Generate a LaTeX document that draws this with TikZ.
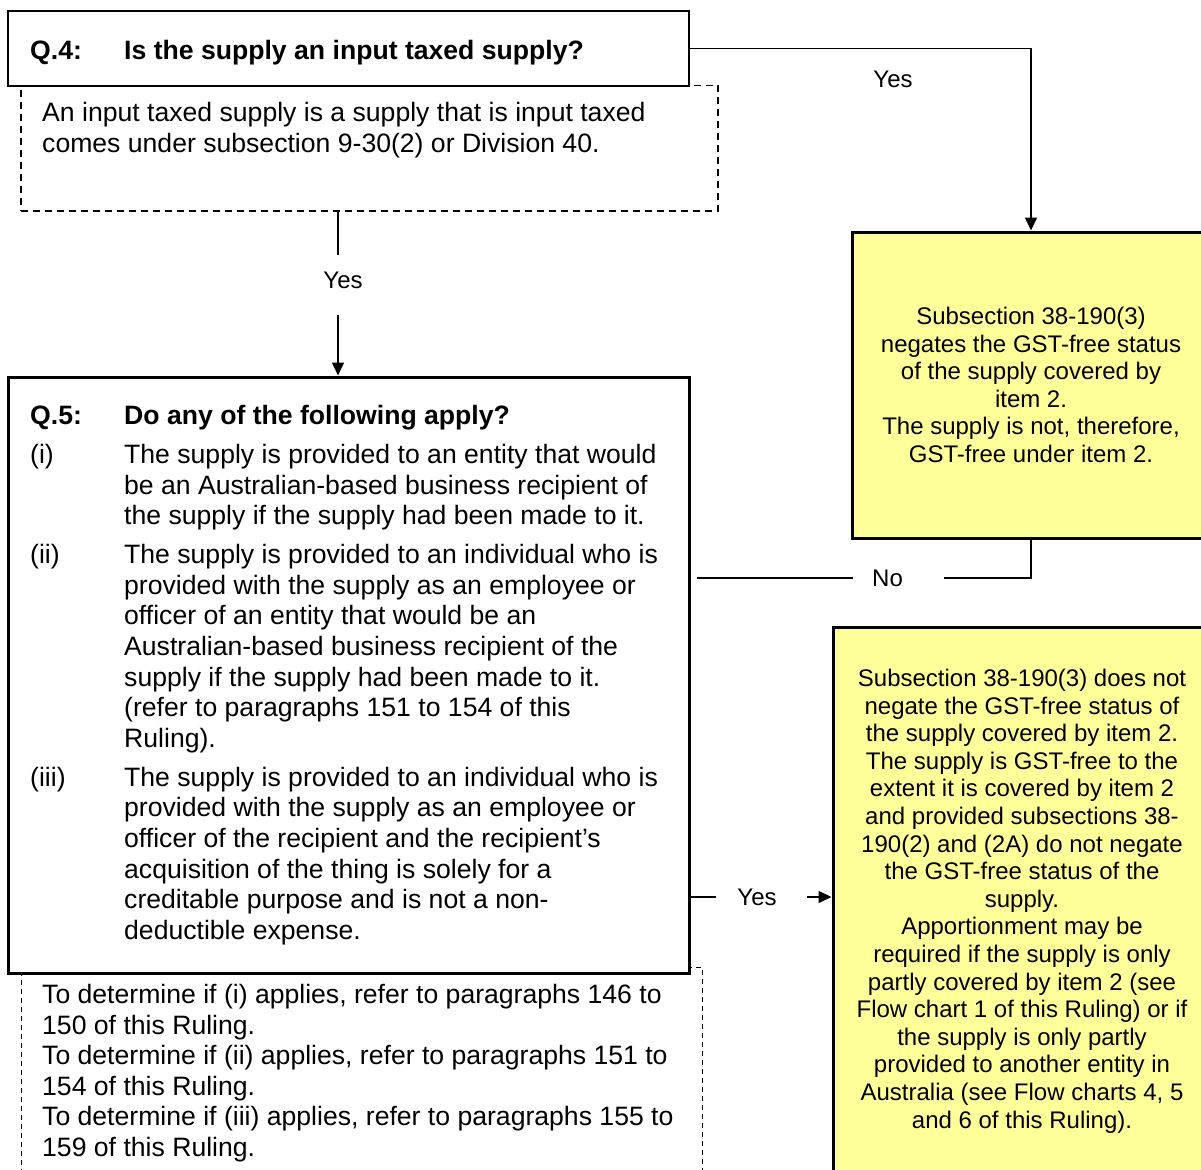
\documentclass[tikz,border=0pt]{standalone}
\usepackage{fontspec}
\setmainfont{Liberation Sans}
\usetikzlibrary{arrows.meta,calc}
\definecolor{noteyellow}{HTML}{FFFF99}
\begin{document}
\begin{tikzpicture}[x=1pt,y=-1pt,
  qbox/.style={draw=black, line width=3pt, fill=white, inner sep=0pt, rectangle},
  ybox/.style={draw=black, line width=3pt, fill=noteyellow, inner sep=0pt, align=center,
    font=\fontsize{24}{27.6}\selectfont},
  notebox/.style={draw=black, line width=1.3pt, dash pattern=on 7pt off 5pt, inner sep=0pt},
  notebox2/.style={draw=black, line width=1pt, dash pattern=on 5pt off 4pt, inner sep=0pt},
  bigtxt/.style={font=\fontsize{26.6}{30.6}\selectfont, inner sep=0pt, anchor=base west},
  lbl/.style={font=\fontsize{24}{27.6}\selectfont, inner sep=0pt},
  conn/.style={draw=black, line width=1.5pt},
  arr/.style={conn, -{Triangle[length=13pt,width=12pt]}},
]
\useasboundingbox (0,0) rectangle (1201,1169);

% note boxes (drawn first, question boxes overlay them)
\node[notebox, minimum width=697pt, minimum height=125.5pt] (q4note) at (369.5,148.25) {};
\node[notebox2, minimum width=681pt, minimum height=236pt] (q5note) at (361.5,1085) {};

% question boxes
\node[qbox, line width=2.5pt, minimum width=681pt, minimum height=75pt] (q4) at (348.5,48.5) {};
\node[qbox, minimum width=681pt, minimum height=596pt] (q5) at (348.5,675) {};

% yellow result boxes
\node[ybox, minimum width=358pt, minimum height=306pt] (r1) at (1031,385)
  {Subsection 38-190(3)\\ negates the GST-free status\\ of the supply covered by\\ item 2.\\ The supply is not, therefore,\\ GST-free under item 2.};
\node[ybox, minimum width=378pt, minimum height=547pt] (r2) at (1022,901)
  {Subsection 38-190(3) does not\\ negate the GST-free status of\\ the supply covered by item 2.\\ The supply is GST-free to the\\ extent it is covered by item 2\\ and provided subsections 38-\\ 190(2) and (2A) do not negate\\ the GST-free status of the\\ supply.\\ Apportionment may be\\ required if the supply is only\\ partly covered by item 2 (see\\ Flow chart 1 of this Ruling) or if\\ the supply is only partly\\ provided to another entity in\\ Australia (see Flow charts 4, 5\\ and 6 of this Ruling).};

% texts
\node[bigtxt] (q4text) at (30,59.5) {\textbf{\makebox[94pt][l]{Q.4:}Is the supply an input taxed supply?}};
\node[bigtxt] (q4notetext) at (42,121.5) {\begin{tabular}[t]{@{}l@{}}An input taxed supply is a supply that is input taxed\\ comes under subsection 9-30(2) or Division 40.\end{tabular}};
\node[bigtxt] (q5text) at (30,424.5) {\begin{tabular}[t]{@{}p{94pt}@{}l@{}}
\textbf{Q.5:} & \textbf{Do any of the following apply?}\\[8.4pt]
(i) & The supply is provided to an entity that would\\
 & be an Australian-based business recipient of\\
 & the supply if the supply had been made to it.\\[8.4pt]
(ii) & The supply is provided to an individual who is\\
 & provided with the supply as an employee or\\
 & officer of an entity that would be an\\
 & Australian-based business recipient of the\\
 & supply if the supply had been made to it.\\
 & (refer to paragraphs 151 to 154 of this\\
 & Ruling).\\[8.4pt]
(iii) & The supply is provided to an individual who is\\
 & provided with the supply as an employee or\\
 & officer of the recipient and the recipient’s\\
 & acquisition of the thing is solely for a\\
 & creditable purpose and is not a non-\\
 & deductible expense.
\end{tabular}};
\node[bigtxt] (q5notetext) at (42,1003.5) {\begin{tabular}[t]{@{}l@{}}To determine if (i) applies, refer to paragraphs 146 to\\ 150 of this Ruling.\\ To determine if (ii) applies, refer to paragraphs 151 to\\ 154 of this Ruling.\\ To determine if (iii) applies, refer to paragraphs 155 to\\ 159 of this Ruling.\end{tabular}};

% labels
\node[lbl] (yes1) at (893,79) {Yes};
\node[lbl, minimum width=40pt, minimum height=60pt] (yes2) at (338,285) {\hspace*{10pt}\raisebox{5pt}[\height][\depth]{Yes}};
\node[lbl, minimum width=91pt, minimum height=20pt] (no1) at (898.5,578) {\hspace*{-22pt}No};
\node[lbl, minimum width=91pt, minimum height=20pt] (yes3) at (761.5,897) {\hspace*{-9pt}Yes};

% connectors
\draw[arr] (q4.east) -| (r1.north);
\draw[conn] (q4note.south -| yes2) -- (yes2);
\draw[arr] (yes2) -- (yes2 |- q5.north);
\draw[conn] (r1.south) |- (no1);
\draw[conn, shorten >=6pt] (no1) -- (no1 -| q5.east);
\draw[conn] (yes3 -| q5.east) -- (yes3);
\draw[arr] (yes3) -- (yes3 -| r2.west);
\end{tikzpicture}
\end{document}
